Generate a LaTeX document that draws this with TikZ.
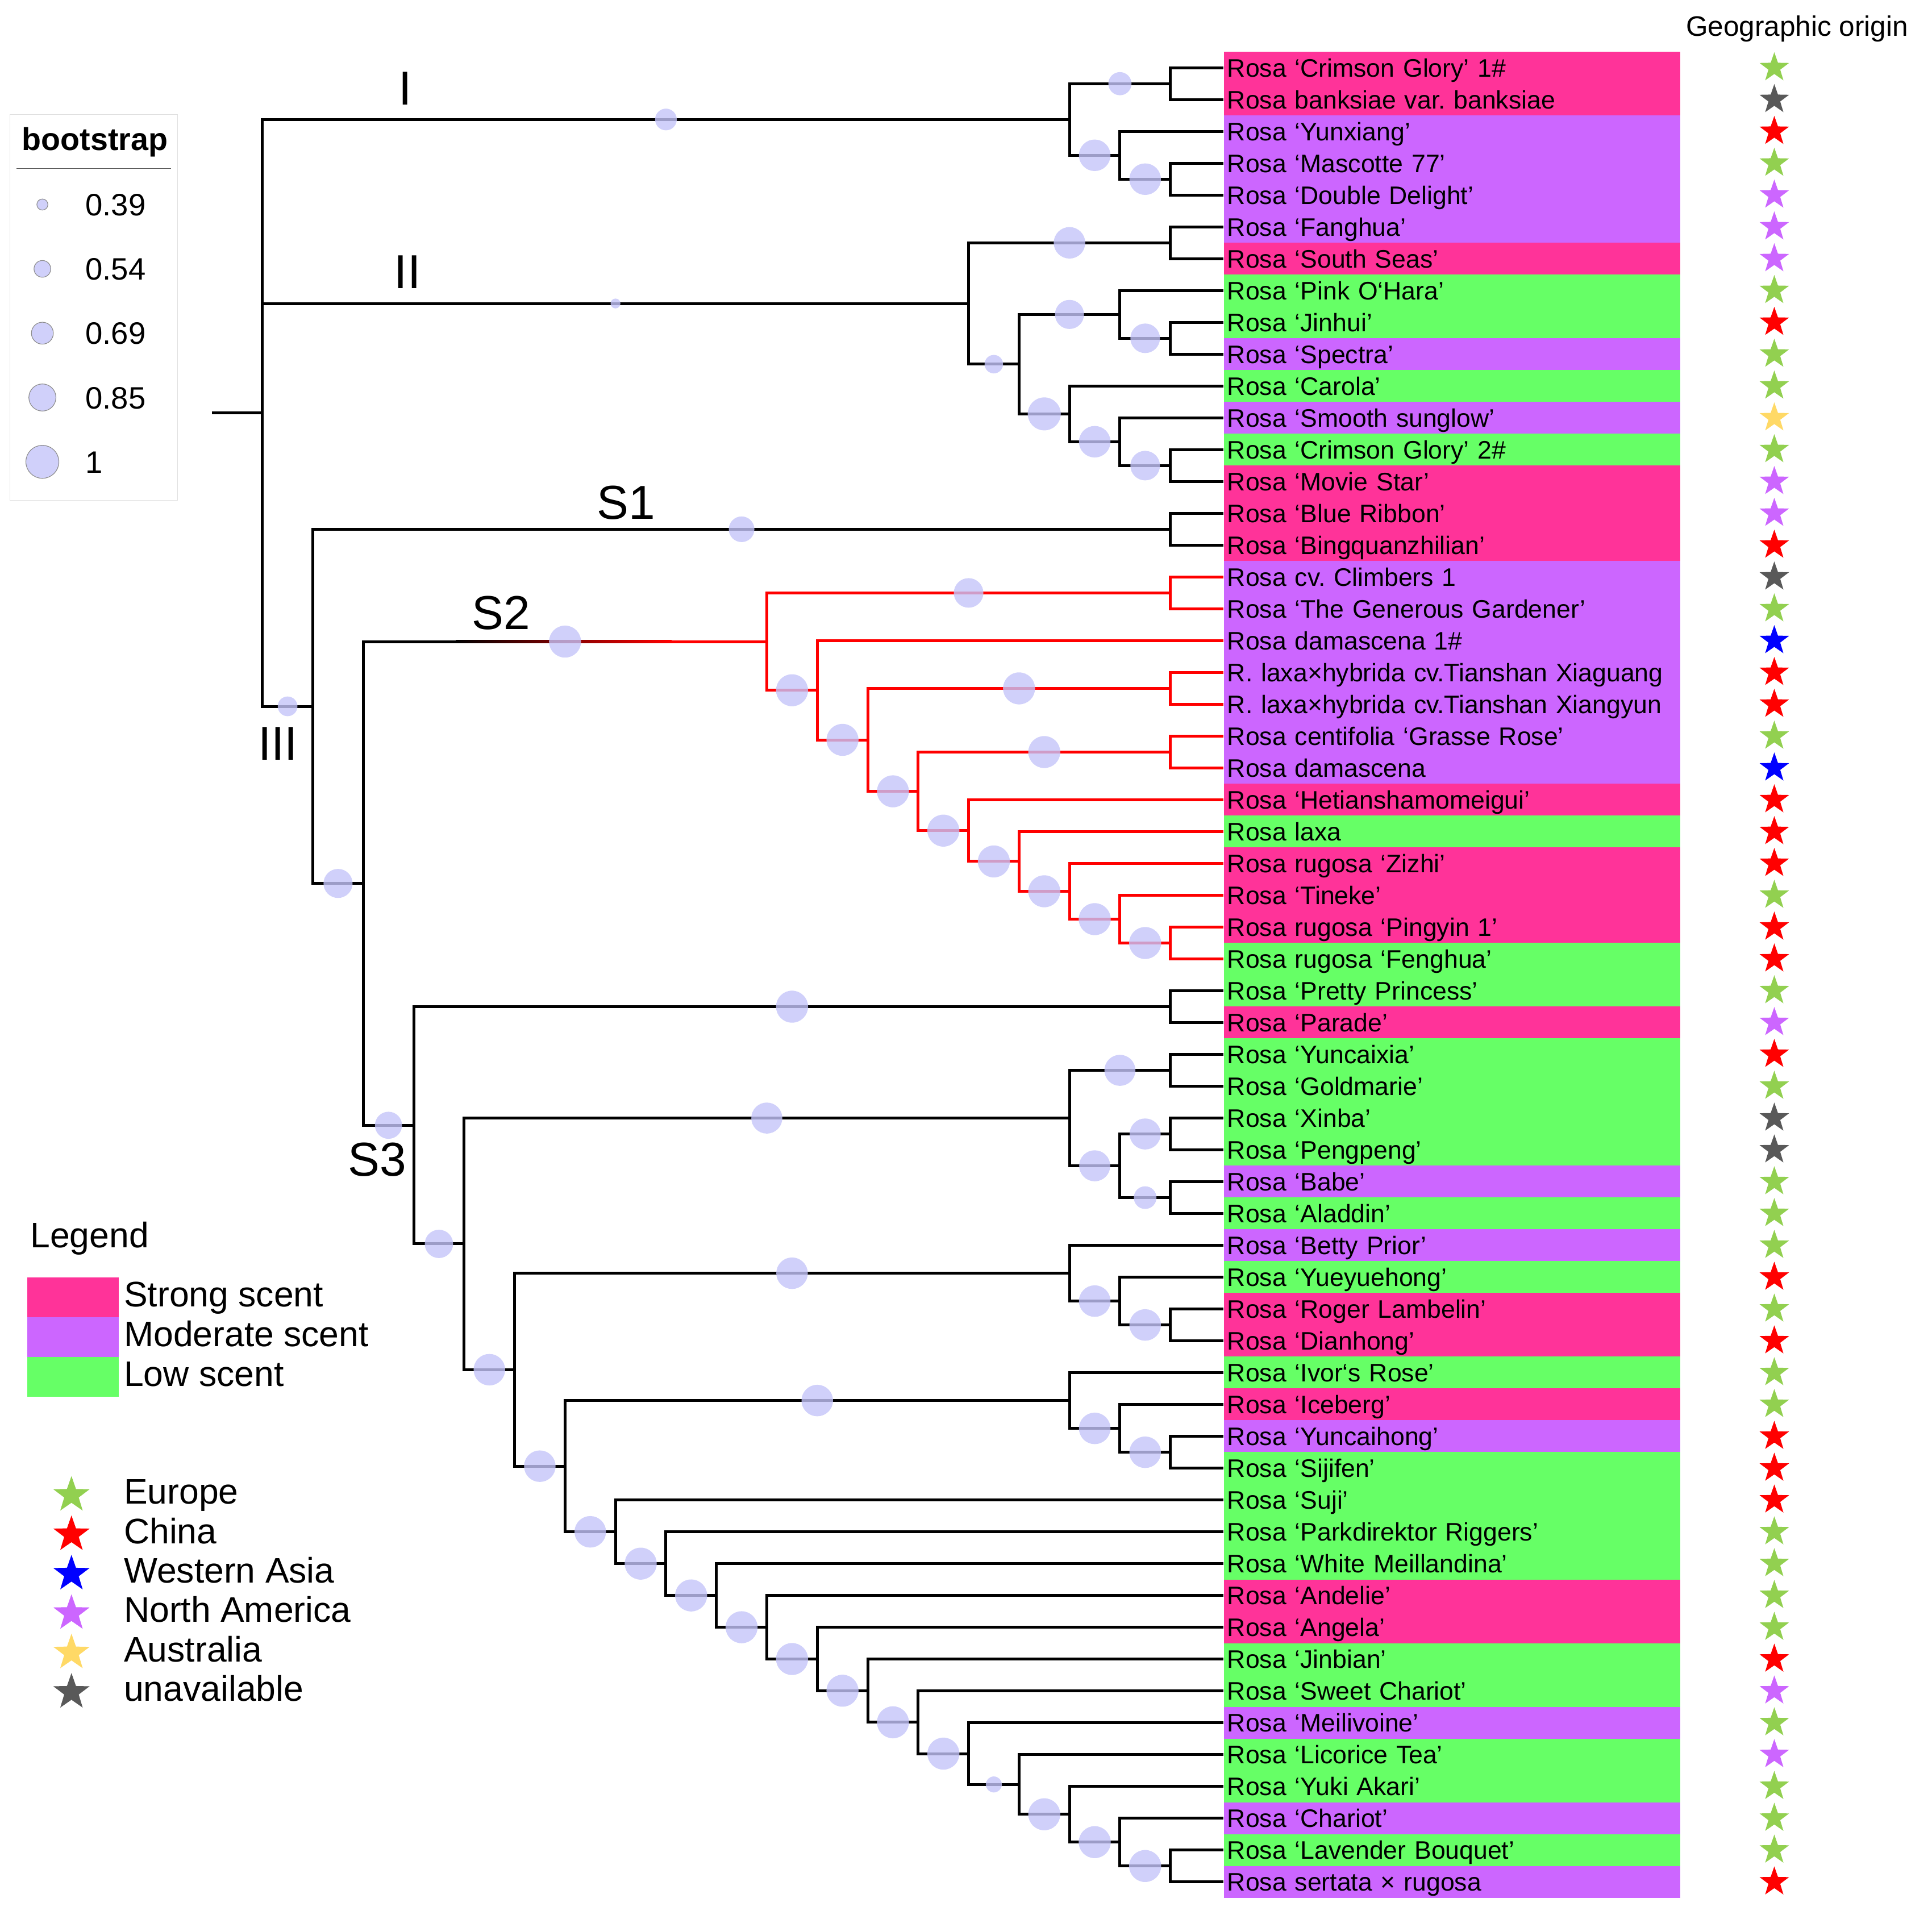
\documentclass[tikz,border=0pt]{standalone}
\usepackage{fontspec}
\setmainfont{Liberation Sans}
\usetikzlibrary{calc,shapes.geometric}
\definecolor{strong}{HTML}{FF3399}
\definecolor{moderate}{HTML}{CC66FF}
\definecolor{low}{HTML}{66FF66}
\definecolor{eu}{HTML}{92D050}
\definecolor{cn}{HTML}{FF0000}
\definecolor{wa}{HTML}{0000FF}
\definecolor{na}{HTML}{CC66FF}
\definecolor{au}{HTML}{FFD966}
\definecolor{un}{HTML}{595959}
\definecolor{bootc}{HTML}{C4C4F9}
\frenchspacing

% inner node: level #2, halfway between children #3 and #4
\newcommand\clade[4]{\path let \p1=($(#3)!.5!(#4)$), \p2=({172+40.94*#2},0) in coordinate (#1) at (\x2,\y1);}
\newcommand\branch[4][]{\draw[tree,#1] (#2) |- node[boot=#4,pos=.75] (b#3) {} (#3);}
\newcommand\twig[3][]{\draw[tree,#1] (#2) |- (#3);}

\begin{document}
\begin{tikzpicture}[x=0.02cm, y=-0.02cm,
    tree/.style={line width=0.046cm},
    boot/.style={circle, inner sep=0pt, minimum size=#1*0.04cm, fill=bootc, fill opacity=.8, draw=none},
    bootkey/.style={boot=#1, draw=black!45, line width=0.3pt},
    lab/.style={anchor=west, inner xsep=0.054cm, inner ysep=0pt, minimum height=0.52cm,
            text width=7.302cm, align=left, text height=8.4pt, text depth=0pt,
            font=\fontsize{11.7}{14}\selectfont},
    geo/.style={star, star points=5, star point ratio=2.5, inner sep=0pt, minimum size=0.504cm},
    cl/.style={inner sep=0pt, font=\fontsize{22}{26}\selectfont},
    keytxt/.style={anchor=base west, inner sep=0pt, font=\fontsize{16.4}{19}\selectfont}]
  \useasboundingbox (0,0) rectangle (1568,1554);

  % taxa, scent boxes and origin stars
  \foreach \scent/\org/\txt [count=\row] in {%
strong/eu/Rosa ‘Crimson Glory’ 1\#,%
strong/un/Rosa banksiae var. banksiae,%
moderate/cn/Rosa ‘Yunxiang’,%
moderate/eu/Rosa ‘Mascotte 77’,%
moderate/na/Rosa ‘Double Delight’,%
moderate/na/Rosa ‘Fanghua’,%
strong/na/Rosa ‘South Seas’,%
low/eu/Rosa ‘Pink O‘Hara’,%
low/cn/Rosa ‘Jinhui’,%
moderate/eu/Rosa ‘Spectra’,%
low/eu/Rosa ‘Carola’,%
moderate/au/Rosa ‘Smooth sunglow’,%
low/eu/Rosa ‘Crimson Glory’ 2\#,%
strong/na/Rosa ‘Movie Star’,%
strong/na/Rosa ‘Blue Ribbon’,%
strong/cn/Rosa ‘Bingquanzhilian’,%
moderate/un/Rosa cv. Climbers 1,%
moderate/eu/Rosa ‘The Generous Gardener’,%
moderate/wa/Rosa damascena 1\#,%
moderate/cn/R. laxa×hybrida cv.Tianshan Xiaguang,%
moderate/cn/R. laxa×hybrida cv.Tianshan Xiangyun,%
moderate/eu/Rosa centifolia ‘Grasse Rose’,%
moderate/wa/Rosa damascena,%
strong/cn/Rosa ‘Hetianshamomeigui’,%
low/cn/Rosa laxa,%
strong/cn/Rosa rugosa ‘Zizhi’,%
strong/eu/Rosa ‘Tineke’,%
strong/cn/Rosa rugosa ‘Pingyin 1’,%
low/cn/Rosa rugosa ‘Fenghua’,%
low/eu/Rosa ‘Pretty Princess’,%
strong/na/Rosa ‘Parade’,%
low/cn/Rosa ‘Yuncaixia’,%
low/eu/Rosa ‘Goldmarie’,%
low/un/Rosa ‘Xinba’,%
low/un/Rosa ‘Pengpeng’,%
moderate/eu/Rosa ‘Babe’,%
low/eu/Rosa ‘Aladdin’,%
moderate/eu/Rosa ‘Betty Prior’,%
low/cn/Rosa ‘Yueyuehong’,%
strong/eu/Rosa ‘Roger Lambelin’,%
strong/cn/Rosa ‘Dianhong’,%
low/eu/Rosa ‘Ivor‘s Rose’,%
strong/eu/Rosa ‘Iceberg’,%
moderate/cn/Rosa ‘Yuncaihong’,%
low/cn/Rosa ‘Sijifen’,%
low/cn/Rosa ‘Suji’,%
low/eu/Rosa ‘Parkdirektor Riggers’,%
low/eu/Rosa ‘White Meillandina’,%
strong/eu/Rosa ‘Andelie’,%
strong/eu/Rosa ‘Angela’,%
low/cn/Rosa ‘Jinbian’,%
low/na/Rosa ‘Sweet Chariot’,%
moderate/eu/Rosa ‘Meilivoine’,%
low/na/Rosa ‘Licorice Tea’,%
low/eu/Rosa ‘Yuki Akari’,%
moderate/eu/Rosa ‘Chariot’,%
low/eu/Rosa ‘Lavender Bouquet’,%
moderate/cn/Rosa sertata × rugosa}{
    \node[lab, fill=\scent] (t\row) at (993,{55+(\row-1)*25.83}) {\txt};
    \node[geo, fill=\org] (o\row) at (1440,{55+(\row-1)*25.83}) {};
  }
  \node[anchor=base west, inner sep=0pt, font=\fontsize{13}{15}\selectfont] (geohead) at (1368,29.2) {Geographic origin};

  % inner nodes, leaves up
  \clade{a1}{19}{t1}{t2}
  \clade{a2}{19}{t4}{t5}
  \clade{a3}{18}{t3}{a2}
  \clade{cI}{17}{a1}{a3}
  \clade{b1}{19}{t6}{t7}
  \clade{b2}{19}{t9}{t10}
  \clade{b3}{18}{t8}{b2}
  \clade{b4}{19}{t13}{t14}
  \clade{b5}{18}{t12}{b4}
  \clade{b6}{17}{t11}{b5}
  \clade{b7}{16}{b3}{b6}
  \clade{cII}{15}{b1}{b7}
  \clade{cS1}{19}{t15}{t16}
  \clade{e1}{19}{t17}{t18}
  \clade{e2}{19}{t20}{t21}
  \clade{e3}{19}{t22}{t23}
  \clade{e4}{19}{t28}{t29}
  \clade{e5}{18}{t27}{e4}
  \clade{e6}{17}{t26}{e5}
  \clade{e7}{16}{t25}{e6}
  \clade{e8}{15}{t24}{e7}
  \clade{e9}{14}{e3}{e8}
  \clade{e10}{13}{e2}{e9}
  \clade{e11}{12}{t19}{e10}
  \clade{cS2}{11}{e1}{e11}
  \clade{f1}{19}{t30}{t31}
  \clade{g2}{19}{t32}{t33}
  \clade{g3}{19}{t34}{t35}
  \clade{g4}{19}{t36}{t37}
  \clade{g5}{18}{g3}{g4}
  \clade{g1}{17}{g2}{g5}
  \clade{i2}{19}{t40}{t41}
  \clade{i3}{18}{t39}{i2}
  \clade{i1}{17}{t38}{i3}
  \clade{k2}{19}{t44}{t45}
  \clade{k3}{18}{t43}{k2}
  \clade{k1}{17}{t42}{k3}
  \clade{m19}{19}{t57}{t58}
  \foreach \dep [evaluate=\dep as \leaf using int(\dep+38), evaluate=\dep as \nxt using int(\dep+1)] in {18,17,...,8}
    {\clade{m\dep}{\dep}{t\leaf}{m\nxt}}
  \clade{j1}{7}{k1}{m8}
  \clade{h1}{6}{i1}{j1}
  \clade{f2}{5}{g1}{h1}
  \clade{cS3}{4}{f1}{f2}
  \clade{d1}{3}{cS2}{cS3}
  \clade{cIII}{2}{cS1}{d1}
  \clade{root}{1}{cI}{cIII}
  \path let \p1=(root), \p2=(172,0) in coordinate (base) at (\x2,\y1);

  % black branches
  \draw[tree] (base) -- (root);
  \foreach \p/\q/\rad in {root/cI/8.8,root/cII/4,root/cIII/8,cI/a1/9.4,cI/a3/12.8,a3/a2/12.8,%
      cII/b1/12.8,cII/b7/7.5,b7/b3/11.8,b7/b6/13.4,b3/b2/12,b6/b5/12.8,b5/b4/12,%
      cIII/cS1/10.4,cIII/d1/11.8,d1/cS3/11,cS3/f1/13,cS3/f2/11.5,%
      f2/g1/12.6,g1/g2/12.6,g1/g5/12.6,g5/g3/12.6,g5/g4/9.2,%
      f2/h1/12.8,h1/i1/12.8,i1/i3/12.8,i3/i2/12.8,%
      h1/j1/12.8,j1/k1/12.8,k1/k3/12.8,k3/k2/12.8,j1/m8/12.8}
    {\branch{\p}{\q}{\rad}}
  \foreach \dep/\rad [evaluate=\dep as \nxt using int(\dep+1)] in {8/13,9/13,10/13,11/13,12/13,13/13,14/13,15/6.5,16/13,17/13,18/13}
    {\branch{m\dep}{m\nxt}{\rad}}
  \foreach \p/\leaf in {a1/1,a1/2,a3/3,a2/4,a2/5,b1/6,b1/7,b3/8,b2/9,b2/10,b6/11,b5/12,b4/13,b4/14,%
      cS1/15,cS1/16,f1/30,f1/31,g2/32,g2/33,g3/34,g3/35,g4/36,g4/37,%
      i1/38,i3/39,i2/40,i2/41,k1/42,k3/43,k2/44,k2/45,m19/58}
    {\twig{\p}{t\leaf}}
  \foreach \dep [evaluate=\dep as \leaf using int(\dep+38)] in {8,...,19}
    {\twig{m\dep}{t\leaf}}

  % S2 stem fades into the red clade
  \twig{d1}{cS2}
  \shade[left color=black, right color=red] let \p1=(cS2), \p2=(370,0), \p3=(545,0) in
    (\x2,\y1+0.023cm) rectangle (\x3,\y1-0.023cm);
  \draw[tree,red] let \p1=(cS2), \p2=(545,0) in (\x2,\y1) -- (cS2);
  \node[boot=13] (bcS2) at ($(d1 |- cS2)!.5!(cS2)$) {};
  \foreach \p/\q/\rad in {cS2/e1/12,cS2/e11/13,e11/e10/13,e10/e2/13,e10/e9/13,e9/e3/13,%
      e9/e8/13,e8/e7/13,e7/e6/13,e6/e5/13,e5/e4/13}
    {\branch[red]{\p}{\q}{\rad}}
  \foreach \p/\leaf in {e1/17,e1/18,e11/19,e2/20,e2/21,e3/22,e3/23,e8/24,e7/25,e6/26,e5/27,e4/28,e4/29}
    {\twig[red]{\p}{t\leaf}}

  % clade labels
  \node[cl] (labI) at (329,72) {I};
  \node[cl] (labII) at (330.7,220.8) {II};
  \node[cl] (labIII) at (225.6,603.3) {III};
  \node[cl] (labS1) at (508,408) {S1};
  \node[cl] (labS2) at (406.7,497.3) {S2};
  \node[cl] (labS3) at (306,941) {S3};

  % bootstrap key
  \draw[black!12, line width=0.01cm] (8,93) rectangle (144,406);
  \node[anchor=base, inner sep=0pt, font=\bfseries\fontsize{14.6}{17}\selectfont] (boothead) at (77,122) {bootstrap};
  \draw[black!65, line width=0.012cm] (13.5,136.6) -- (139,136.6);
  \foreach \val/\rad [count=\row] in {0.39/4.5,0.54/6.8,0.69/8.9,0.85/11,1/13.4} {
    \node[bootkey=\rad] (key\row) at (34.4,{166+(\row-1)*52.2}) {};
    \node[anchor=base west, inner sep=0pt, font=\fontsize{14.3}{17}\selectfont] (val\row) at (69,{175+(\row-1)*52.2}) {\val};
  }

  % scent and origin key
  \node[keytxt] (legend) at (24.3,1012.5) {Legend};
  \foreach \col/\txt [count=\row] in {strong/Strong scent,moderate/Moderate scent,low/Low scent} {
    \fill[fill=\col] (22.2,{1036.9+(\row-1)*32.2}) rectangle (96.2,{1036.9+\row*32.2});
    \node[keytxt] (sc\row) at (100.3,{1060.4+(\row-1)*32.2}) {\txt};
  }
  \foreach \org/\txt [count=\row] in {eu/Europe,cn/China,wa/Western Asia,na/North America,au/Australia,un/unavailable} {
    \node[geo, fill=\org, minimum size=0.62cm] (key-\org) at (58,{1213.4+(\row-1)*31.98}) {};
    \node[keytxt] (txt-\org) at (100.3,{1220.7+(\row-1)*31.98}) {\txt};
  }
\end{tikzpicture}
\end{document}
